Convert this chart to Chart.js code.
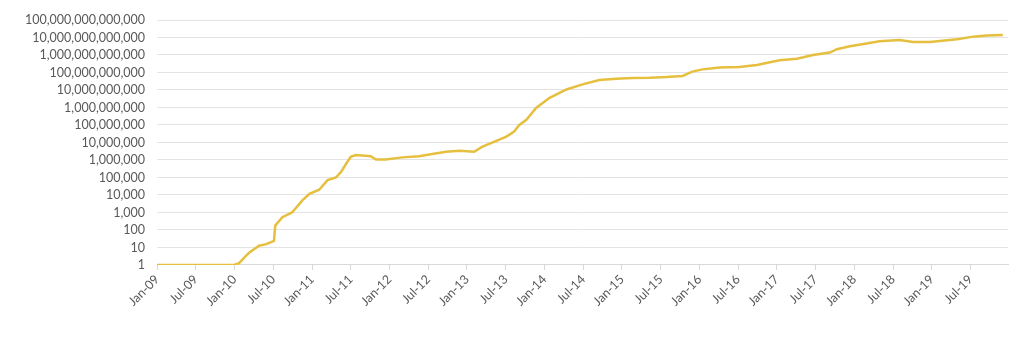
<!DOCTYPE html>
<html>
<head>
<meta charset="utf-8">
<script src="https://cdn.jsdelivr.net/npm/chart.js@4"></script>
<style>
  html, body { margin: 0; padding: 0; background: #fff; }
  #wrap { width: 1024px; height: 351px; }
</style>
</head>
<body>
<div id="wrap"><canvas id="chart"></canvas></div>
<script>
// months counted from Jan-09 (0 = Jan-09)
const months = [
  0, 11.9, 12.7, 13.75, 14.3, 15.8, 16.9, 18.1, 18.3, 19.4, 20.9, 22.5, 23.6, 25.1,
  26.4, 27.7, 28.5, 29.3, 30.0, 30.8, 33.1, 33.9, 35.4, 38.0, 40.6, 42.6, 44.8,
  46.8, 49.1, 50.4, 51.9, 54.1, 55.3, 56.1, 57.2, 58.7, 60.8, 63.4, 65.9, 68.5,
  71.1, 73.6, 76.3, 78.9, 81.4, 82.9, 84.5, 87.1, 90.2, 92.9, 96.4, 99.1, 101.6,
  104.2, 105.3, 107.3, 109.9, 111.9, 115.0, 117.1, 119.7, 123.9, 126.4, 128.5, 131.0
];
const difficulty = [
  1, 1, 1.26, 3.3, 5.1, 12.6, 15.5, 24, 178, 537, 1000, 4900, 11700, 20000,
  70800, 100000, 209000, 631000, 1510000, 1900000, 1660000, 1070000, 1070000,
  1410000, 1660000, 2190000, 2950000, 3390000, 2950000, 5750000, 9770000,
  21900000, 42700000, 100000000, 200000000, 933000000, 3550000000, 10700000000,
  20900000000, 37200000000, 43700000000, 47900000000, 50100000000, 55000000000,
  63100000000, 112000000000, 151000000000, 191000000000, 209000000000,
  269000000000, 501000000000, 617000000000, 1000000000000, 1380000000000,
  2140000000000, 3160000000000, 4570000000000, 6030000000000, 7240000000000,
  5620000000000, 5500000000000, 7940000000000, 11200000000000, 13200000000000,
  14100000000000
];
const yTicks = [1, 10, 100, 1e3, 1e4, 1e5, 1e6, 1e7, 1e8, 1e9, 1e10, 1e11, 1e12, 1e13, 1e14];
const xTicks = [0, 6, 12, 18, 24, 30, 36, 42, 48, 54, 60, 66, 72, 78, 84, 90, 96, 102, 108, 114, 120, 126];
const monthNames = ['Jan', 'Jul'];

const points = months.map((m, i) => ({ x: m, y: difficulty[i] }));

new Chart(document.getElementById('chart').getContext('2d'), {
  type: 'line',
  data: {
    datasets: [{
      data: points,
      borderColor: '#e6bf3f',
      borderWidth: 2.5,
      pointRadius: 0,
      tension: 0,
      fill: false
    }]
  },
  options: {
    responsive: true,
    maintainAspectRatio: false,
    animation: false,
    layout: { padding: { left: 13, right: 16, top: 20, bottom: 40 } },
    plugins: { legend: { display: false }, tooltip: { enabled: false } },
    scales: {
      x: {
        type: 'linear',
        min: 0,
        max: 131.8,
        afterBuildTicks: axis => { axis.ticks = xTicks.map(v => ({ value: v })); },
        grid: { drawOnChartArea: false, tickLength: 5, color: '#d9d9d9' },
        border: { color: '#d9d9d9' },
        ticks: {
          autoSkip: false,
          maxRotation: 45,
          minRotation: 45,
          padding: 2,
          color: '#595959',
          font: { family: 'Lato', size: 12.5 },
          callback: v => monthNames[(v % 12) / 6] + '-' + String(9 + Math.floor(v / 12)).padStart(2, '0')
        }
      },
      y: {
        type: 'logarithmic',
        min: 1,
        max: 1e14,
        afterBuildTicks: axis => { axis.ticks = yTicks.map(v => ({ value: v })); },
        grid: { color: '#e3e3e3', drawTicks: false },
        border: { display: false },
        ticks: {
          autoSkip: false,
          padding: 12,
          color: '#595959',
          font: { family: 'Lato', size: 12.5 },
          callback: v => v.toLocaleString('en-US')
        }
      }
    }
  }
});
</script>
</body>
</html>
